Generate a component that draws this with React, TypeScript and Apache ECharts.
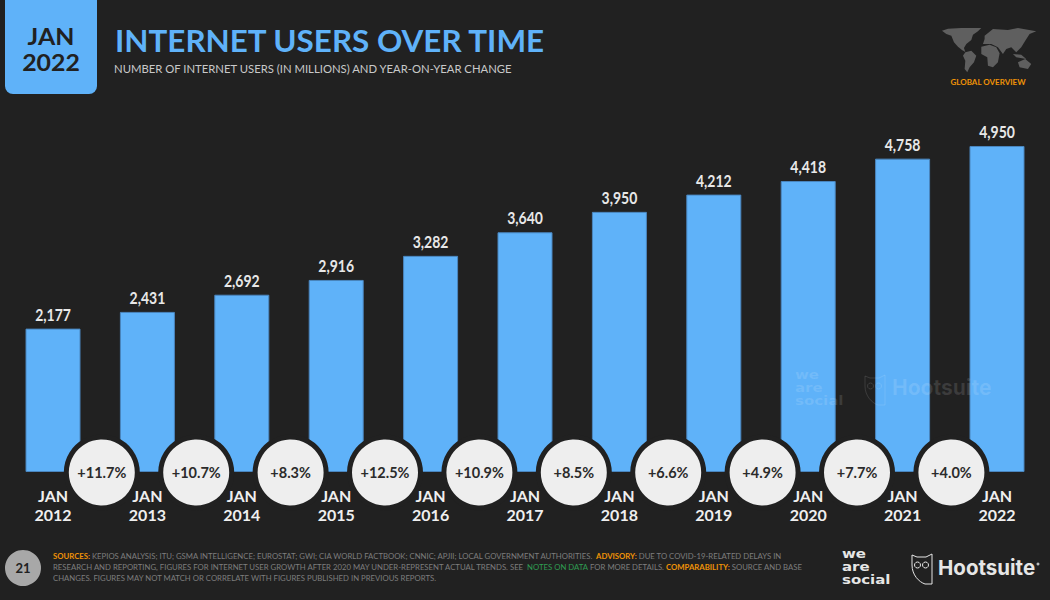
import React, { useEffect, useRef } from "react";
import * as echarts from "echarts";

const years = ["2012", "2013", "2014", "2015", "2016", "2017", "2018", "2019", "2020", "2021", "2022"];
const users = [2177, 2431, 2692, 2916, 3282, 3640, 3950, 4212, 4418, 4758, 4950];
const growth = ["+11.7%", "+10.7%", "+8.3%", "+12.5%", "+10.9%", "+8.5%", "+6.6%", "+4.9%", "+7.7%", "+4.0%"];

const BG = "#212121";
const BLUE = "#5fb2f9";
const FONT = "Lato, 'Noto Sans', sans-serif";
const LOGO_FONT = "'DejaVu Sans', sans-serif";

const OWL =
  "M1 2 L6 4 L15 4 L21 1 L21 31 L14 31 C8 29 1 22 1 12 Z M6.5 9 A3 3 0 1 0 6.51 9 Z M14.5 9 A3 3 0 1 0 14.51 9 Z";
const WORLD =
  "M12 20 L30 14 L70 12 L130 12 L120 22 L105 32 L100 48 L85 60 L78 72 L82 84 L72 78 L60 68 L48 55 L40 35 L25 30 Z " +
  "M82 85 L100 80 L115 95 L108 115 L95 130 L88 145 L80 135 L82 110 L75 95 Z " +
  "M130 68 L155 62 L175 70 L185 88 L180 115 L165 130 L150 125 L148 100 L130 90 Z " +
  "M140 35 L165 15 L210 18 L240 12 L295 22 L275 30 L262 50 L250 70 L235 85 L220 70 L205 75 L195 90 L180 70 L160 60 L135 60 L140 45 Z " +
  "M225 90 L250 92 L265 105 L235 100 Z " +
  "M240 115 L262 105 L280 120 L270 135 L245 130 Z";

echarts.graphic.registerShape("owlMark", echarts.graphic.extendPath(OWL, {}) as any);
echarts.graphic.registerShape("worldMap", echarts.graphic.extendPath(WORLD, {}) as any);

const footerLines: [string, string][][] = [
  [
    ["o", "SOURCES:"],
    ["g", " KEPIOS ANALYSIS; ITU; GSMA INTELLIGENCE; EUROSTAT; GWI; CIA WORLD FACTBOOK; CNNIC; APJII; LOCAL GOVERNMENT AUTHORITIES. "],
    ["o", "ADVISORY:"],
    ["g", " DUE TO COVID-19-RELATED DELAYS IN"],
  ],
  [
    ["g", "RESEARCH AND REPORTING, FIGURES FOR INTERNET USER GROWTH AFTER 2020 MAY UNDER-REPRESENT ACTUAL TRENDS. SEE "],
    ["n", "NOTES ON DATA"],
    ["g", " FOR MORE DETAILS. "],
    ["o", "COMPARABILITY:"],
    ["g", " SOURCE AND BASE"],
  ],
  [["g", "CHANGES. FIGURES MAY NOT MATCH OR CORRELATE WITH FIGURES PUBLISHED IN PREVIOUS REPORTS."]],
];

const footerRich = {
  g: { fill: "#7d7d7d", color: "#7d7d7d", fontSize: 7.75, fontFamily: FONT },
  o: { fill: "#ee9207", color: "#ee9207", fontSize: 7.75, fontWeight: 700, fontFamily: FONT },
  n: { fill: "#2f9e52", color: "#2f9e52", fontSize: 7.75, fontFamily: FONT },
};

const socialWords = ["we", "are", "social"];

function socialLogo(x: number, y: number, fill: string, z: number) {
  return socialWords.map((w, i) => ({
    type: "text",
    x,
    y: y + i * 13,
    z,
    scaleX: 1.25,
    style: { text: w, fill, font: `700 12px ${LOGO_FONT}`, textVerticalAlign: "middle" },
  }));
}

export default function App() {
  const ref = useRef<HTMLDivElement>(null);
  useEffect(() => {
    document.body.style.margin = "0";
    document.body.style.background = BG;
    const chart = echarts.init(ref.current!, null, { renderer: "svg" });
    chart.setOption({
      animation: false,
      backgroundColor: BG,
      grid: { left: 5.8, right: 5.8, top: 142.7, bottom: 128, containLabel: false },
      xAxis: {
        type: "category",
        data: years,
        axisLine: { show: false },
        axisTick: { show: false },
        axisLabel: {
          formatter: (v: string) => `JAN\n${v}`,
          color: "#efefef",
          fontFamily: FONT,
          fontWeight: 700,
          fontSize: 16,
          lineHeight: 19,
          margin: 13.5,
          interval: 0,
        },
      },
      yAxis: { type: "value", min: 0, max: 5000, show: false, splitLine: { show: false } },
      series: [
        {
          type: "bar",
          data: users,
          barWidth: 55,
          itemStyle: { color: BLUE, borderColor: "#4a86bf", borderWidth: 1 },
        },
        {
          type: "custom",
          data: users.map((v, i) => [i, v]),
          encode: { x: 0, y: 1 },
          z: 4,
          renderItem: (params: any, api: any) => {
            const pt = api.coord([api.value(0), api.value(1)]);
            return {
              type: "text",
              x: pt[0],
              y: pt[1] - 15,
              scaleX: 0.8,
              style: {
                text: users[params.dataIndex].toLocaleString("en-US"),
                fill: "#e8e8e8",
                font: `700 17.5px ${FONT}`,
                textAlign: "center",
                textVerticalAlign: "middle",
              },
            };
          },
        },
        {
          type: "custom",
          data: growth.map((_, i) => [i, 0]),
          encode: { x: 0, y: 1 },
          z: 5,
          renderItem: (params: any, api: any) => {
            const pt = api.coord([api.value(0), 0]);
            const half = api.size([1, 0])[0] / 2;
            const cx = pt[0] + half + 1.6;
            const cy = pt[1] + 0.5;
            return {
              type: "group",
              children: [
                { type: "circle", shape: { cx, cy, r: 35.5 }, style: { fill: "#eeeeee", stroke: BG, lineWidth: 5 } },
                {
                  type: "text",
                  x: cx,
                  y: cy,
                  style: {
                    text: growth[params.dataIndex],
                    fill: "#2b2b2b",
                    font: `700 14.5px ${FONT}`,
                    textAlign: "center",
                    textVerticalAlign: "middle",
                  },
                },
              ],
            };
          },
        },
      ],
      graphic: [
        { type: "rect", shape: { x: 5, y: -12, width: 92, height: 106, r: 8 }, style: { fill: BLUE } },
        { type: "text", x: 51, y: 36.5, scaleX: 1.13, style: { text: "JAN", fill: BG, font: `700 22px ${FONT}`, textAlign: "center", textVerticalAlign: "middle" } },
        { type: "text", x: 51, y: 63, scaleX: 1.13, style: { text: "2022", fill: BG, font: `700 22px ${FONT}`, textAlign: "center", textVerticalAlign: "middle" } },
        { type: "text", x: 115, y: 39.5, style: { text: "INTERNET USERS OVER TIME", fill: BLUE, font: `700 31.4px ${FONT}`, textVerticalAlign: "middle" } },
        { type: "text", x: 114, y: 68, style: { text: "NUMBER OF INTERNET USERS (IN MILLIONS) AND YEAR-ON-YEAR CHANGE", fill: "#c9c9c9", font: `400 11.3px ${FONT}`, textVerticalAlign: "middle" } },

        { type: "worldMap", x: 938, y: 24, scaleX: 1 / 3, scaleY: 1 / 3, style: { fill: "#5f5f5f" } },
        { type: "text", x: 988, y: 82, style: { text: "GLOBAL OVERVIEW", fill: "#ee9207", font: `700 8px ${FONT}`, textAlign: "center", textVerticalAlign: "middle" } },

        // watermark
        ...socialLogo(795, 375, "rgba(255,255,255,0.12)", 10),
        { type: "owlMark", x: 864, y: 374, z: 10, style: { fill: "none", stroke: "rgba(255,255,255,0.12)", lineWidth: 1 } },
        { type: "text", x: 892, y: 387, z: 10, style: { text: "Hootsuite", fill: "rgba(255,255,255,0.12)", font: `700 21px Inter, ${FONT}`, textVerticalAlign: "middle" } },

        // footer
        { type: "circle", shape: { cx: 23, cy: 568, r: 18 }, style: { fill: "#a8a8a8" } },
        { type: "text", x: 23, y: 568, style: { text: "21", fill: BG, font: `700 13px ${FONT}`, textAlign: "center", textVerticalAlign: "middle" } },
        ...footerLines.map((line, i) => ({
          type: "text",
          x: 53,
          y: 556 + i * 11,
          style: {
            text: line.map(([k, t]) => `{${k}|${t}}`).join(""),
            rich: footerRich,
            textVerticalAlign: "middle",
          },
        })),
        ...socialLogo(842, 554, "#e6e6e6", 1),
        { type: "owlMark", x: 911, y: 553, style: { fill: "none", stroke: "#e6e6e6", lineWidth: 1 } },
        { type: "text", x: 938, y: 567, style: { text: "Hootsuite", fill: "#e6e6e6", font: `700 20.5px Inter, ${FONT}`, textVerticalAlign: "middle" } },
        { type: "circle", shape: { cx: 1038, cy: 564, r: 1.5 }, style: { fill: "#bbbbbb" } },
      ],
    });
    return () => chart.dispose();
  }, []);
  return <div ref={ref} style={{ width: 1050, height: 600 }} />;
}
